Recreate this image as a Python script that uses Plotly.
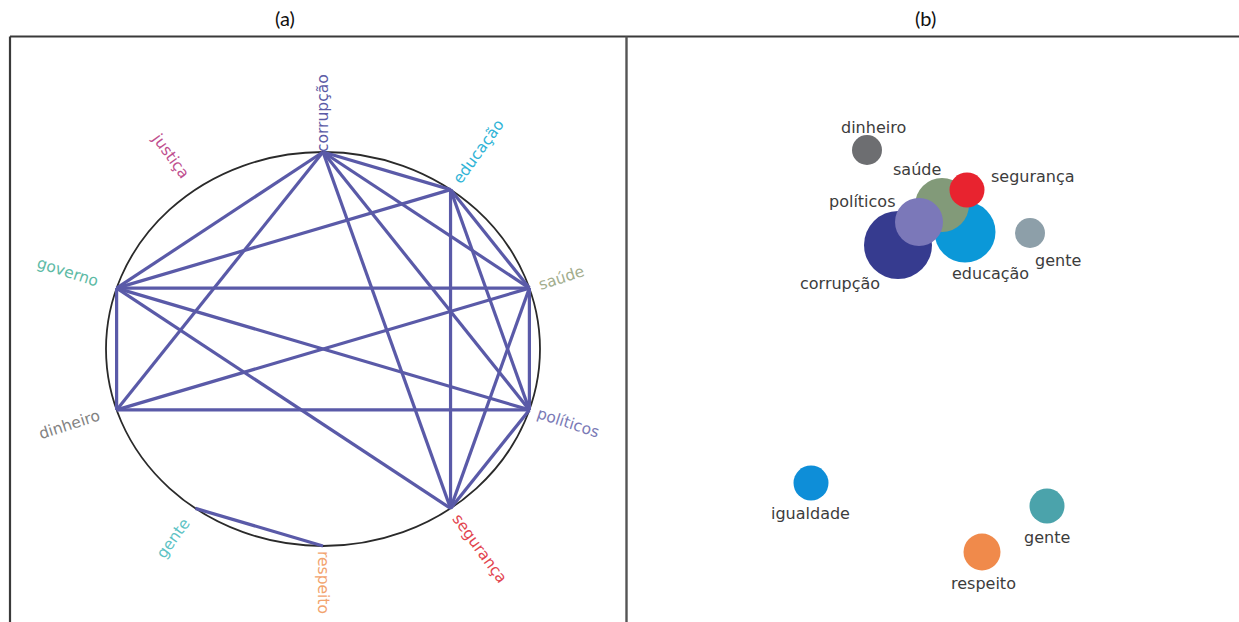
import math
import plotly.graph_objects as go

W, H = 1239, 622

# ---- (a) co-occurrence ring ----
ring_terms = ["corrupção", "educação", "saúde", "políticos", "segurança",
              "respeito", "gente", "dinheiro", "governo", "justiça"]
ring_edges = [
    ("corrupção", "governo"), ("corrupção", "dinheiro"), ("corrupção", "educação"),
    ("corrupção", "saúde"), ("corrupção", "políticos"), ("corrupção", "segurança"),
    ("educação", "governo"), ("educação", "saúde"), ("educação", "políticos"),
    ("educação", "segurança"),
    ("governo", "saúde"), ("governo", "políticos"), ("governo", "segurança"),
    ("governo", "dinheiro"),
    ("dinheiro", "saúde"), ("dinheiro", "políticos"),
    ("saúde", "políticos"), ("saúde", "segurança"),
    ("políticos", "segurança"),
    ("gente", "respeito"),
]

# ---- (b) term map ----
map_terms = ["educação", "corrupção", "saúde", "políticos", "segurança",
             "dinheiro", "gente", "igualdade", "gente", "respeito"]
map_x = [3.38, 2.71, 3.15, 2.92, 3.40, 2.40, 4.03, 1.84, 4.20, 3.55]
map_y = [3.90, 3.77, 4.17, 4.00, 4.32, 4.72, 3.89, 1.39, 1.16, 0.70]
map_size = [61, 68, 54, 48, 35, 30, 30, 35, 35, 37]

# styling
ring_label_colors = ["#5b5ba6", "#2fb3d6", "#a2ad8d", "#7a7ab6", "#e2454f",
                     "#f2a36e", "#5cc2c4", "#828282", "#5dbaa5", "#c0508f"]
ring_label_dist = [39, 47, 34, 41, 50, 36, 37, 50, 52, 42]
map_colors = ["#0b98d8", "#363b8f", "#829a79", "#7b78b9", "#e8232f",
              "#6d6e71", "#8d9fa9", "#0e8ed8", "#4ba3ab", "#f08a4b"]
map_label_shift = [(25, -41), (-58, -38), (-25, 35), (-57, 20), (66, 13),
                   (6, 22), (28, -27), (-1, -30), (0, -31), (1, -31)]

EDGE_COLOR = "#5a5aa8"

angles = {t: math.radians(90 - 36 * i) for i, t in enumerate(ring_terms)}
pos = {t: (math.cos(a), math.sin(a)) for t, a in angles.items()}

fig = go.Figure()

ex, ey = [], []
for a, b in ring_edges:
    ex += [pos[a][0], pos[b][0], None]
    ey += [pos[a][1], pos[b][1], None]
fig.add_trace(go.Scatter(x=ex, y=ey, mode="lines", xaxis="x", yaxis="y",
                         line=dict(color=EDGE_COLOR, width=3.2),
                         hoverinfo="skip", showlegend=False))

# bubbles of the term map
fig.add_trace(go.Scatter(x=map_x, y=map_y, mode="markers", xaxis="x2", yaxis="y2",
                         marker=dict(size=map_size, color=map_colors, opacity=1,
                                     line=dict(width=0)),
                         text=map_terms, hoverinfo="text", showlegend=False,
                         cliponaxis=False))

annotations = []
for i, t in enumerate(ring_terms):
    a = angles[t]
    deg = math.degrees(a)
    rot = -deg
    if math.cos(a) < -1e-6:
        rot += 180
    if rot > 180:
        rot -= 360
    d = ring_label_dist[i]
    annotations.append(dict(
        x=pos[t][0], y=pos[t][1], xref="x", yref="y", text=t, showarrow=False,
        textangle=rot, xanchor="center", yanchor="middle",
        xshift=d * math.cos(a), yshift=d * math.sin(a),
        font=dict(family="DejaVu Sans", size=15.5, color=ring_label_colors[i])))

for i, t in enumerate(map_terms):
    sx, sy = map_label_shift[i]
    annotations.append(dict(
        x=map_x[i], y=map_y[i], xref="x2", yref="y2", text=t, showarrow=False,
        xanchor="center", yanchor="middle", xshift=sx, yshift=sy,
        font=dict(family="DejaVu Sans", size=16, color="#3c3c3c")))

for lab, px in (("(a)", 285), ("(b)", 925)):
    annotations.append(dict(x=px / W, y=1 - 18 / H, xref="paper", yref="paper",
                            text=lab, showarrow=False, xanchor="center",
                            yanchor="middle",
                            font=dict(family="Lato", size=20, color="#111111")))

# panel frame
top = 1 - 36.5 / H
shapes = [
    dict(type="circle", xref="x", yref="y", x0=-1, y0=-1, x1=1, y1=1,
         line=dict(color="#2a2a2a", width=1.8), layer="below"),
    dict(type="line", xref="paper", yref="paper", x0=10 / W, x1=1, y0=top, y1=top,
         line=dict(color="#3a3a3a", width=2)),
    dict(type="line", xref="paper", yref="paper", x0=10 / W, x1=10 / W, y0=0, y1=top,
         line=dict(color="#3a3a3a", width=2.2)),
    dict(type="line", xref="paper", yref="paper", x0=626.5 / W, x1=626.5 / W, y0=0,
         y1=top, line=dict(color="#555555", width=2.4)),
]

dom_top = (H - 37) / H
axis_common = dict(visible=False, showgrid=False, zeroline=False, fixedrange=True)
fig.update_layout(
    width=W, height=H, margin=dict(l=0, r=0, t=0, b=0),
    paper_bgcolor="white", plot_bgcolor="white",
    xaxis=dict(domain=[10 / W, 626 / W], range=[-(323 - 10) / 217, (626 - 323) / 217],
               **axis_common),
    yaxis=dict(domain=[0, dom_top], range=[-(622 - 349) / 197, (349 - 37) / 197],
               **axis_common),
    xaxis2=dict(domain=[626 / W, 1], range=[-0.01, 6.12], anchor="y2", **axis_common),
    yaxis2=dict(domain=[0, dom_top], range=[0, 5.85], anchor="x2", **axis_common),
    annotations=annotations, shapes=shapes, showlegend=False,
)

fig.write_html("out.html")
